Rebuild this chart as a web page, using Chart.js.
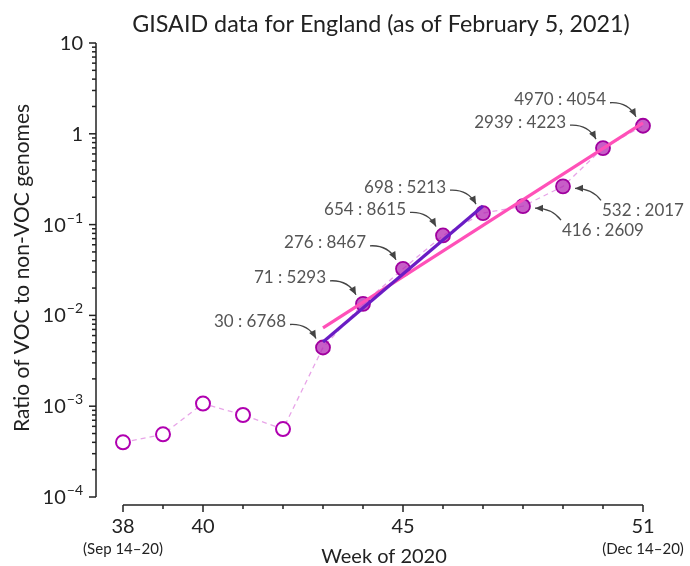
<!DOCTYPE html>
<html>
<head>
<meta charset="utf-8">
<script src="https://cdn.jsdelivr.net/npm/chart.js@4.4.1/dist/chart.umd.min.js"></script>
<style>
  html, body { margin: 0; padding: 0; background: #fff; }
  #wrap { width: 690px; height: 566px; }
</style>
</head>
<body>
<div id="wrap"><canvas id="vocChart" width="690" height="566"></canvas></div>
<script>
// weeks of 2020
const weeks = [38, 39, 40, 41, 42, 43, 44, 45, 46, 47, 48, 49, 50, 51];
// early weeks: ratio (open circles)
const earlyRatios = [4.0e-4, 4.9e-4, 1.07e-3, 8.0e-4, 5.6e-4];
// later weeks: VOC : non-VOC genome counts (filled circles)
const vocCounts = [30, 71, 276, 654, 698, 416, 532, 2939, 4970];
const nonVocCounts = [6768, 5293, 8467, 8615, 5213, 2609, 2017, 4223, 4054];
// label side for each filled point: "ul" = upper left, "lr" = lower right
const labelSide = ["ul", "ul", "ul", "ul", "ul", "lr", "lr", "ul", "ul"];

// fitted trend lines (end points)
const purpleFitWeeks = [43, 47];
const purpleFitValues = [5.1e-3, 0.16];
const pinkFitWeeks = [43, 51];
const pinkFitValues = [7.3e-3, 1.32];

const majorWeeks = [38, 40, 45, 51];
const majorWeekLabels = ["38", "40", "45", "51"];
const weekRanges = ["(Sep 14\u201320)", "", "", "(Dec 14\u201320)"];
const yExponents = [-4, -3, -2, -1, 0, 1];

const FONT = "Lato, 'Open Sans', sans-serif";

const lateWeeks = weeks.slice(earlyRatios.length);
const lateRatios = vocCounts.map((v, i) => v / nonVocCounts[i]);
const allRatios = earlyRatios.concat(lateRatios);

const pts = (xs, ys) => xs.map((x, i) => ({ x, y: ys[i] }));

const axesPlugin = {
    id: "axesPlugin",
    afterDraw(chart) {
        const { ctx, scales: { x, y } } = chart;
        ctx.save();
        ctx.strokeStyle = "#222";
        ctx.fillStyle = "#222";
        ctx.lineWidth = 1.5;

        // x axis (offset below plot)
        const xAxisY = 505;
        ctx.beginPath();
        ctx.moveTo(x.getPixelForValue(weeks[0]), xAxisY);
        ctx.lineTo(x.getPixelForValue(weeks[weeks.length - 1]), xAxisY);
        ctx.stroke();
        weeks.forEach(w => {
            const px = x.getPixelForValue(w);
            const len = majorWeeks.includes(w) ? 7 : 4;
            ctx.beginPath();
            ctx.moveTo(px, xAxisY);
            ctx.lineTo(px, xAxisY + len);
            ctx.stroke();
        });
        ctx.textAlign = "center";
        ctx.textBaseline = "alphabetic";
        majorWeeks.forEach((w, i) => {
            const px = x.getPixelForValue(w);
            ctx.font = "20px " + FONT;
            ctx.fillText(majorWeekLabels[i], px, 533);
            if (weekRanges[i]) {
                ctx.font = "15px " + FONT;
                ctx.fillText(weekRanges[i], px, 554);
            }
        });
        ctx.font = "20px " + FONT;
        ctx.fillText("Week of 2020", 384, 563);

        // y axis (offset left of plot)
        const yAxisX = 96;
        ctx.beginPath();
        ctx.moveTo(yAxisX, y.getPixelForValue(Math.pow(10, yExponents[0])));
        ctx.lineTo(yAxisX, y.getPixelForValue(Math.pow(10, yExponents[yExponents.length - 1])));
        ctx.stroke();
        yExponents.forEach((e, i) => {
            const py = y.getPixelForValue(Math.pow(10, e));
            ctx.beginPath();
            ctx.moveTo(yAxisX, py);
            ctx.lineTo(yAxisX - 7, py);
            ctx.stroke();
            if (i < yExponents.length - 1) {
                for (let m = 2; m <= 9; m++) {
                    const pm = y.getPixelForValue(m * Math.pow(10, e));
                    ctx.beginPath();
                    ctx.moveTo(yAxisX, pm);
                    ctx.lineTo(yAxisX - 4, pm);
                    ctx.stroke();
                }
            }
            // label
            const right = 83;
            ctx.textAlign = "right";
            ctx.textBaseline = "alphabetic";
            if (e === 0 || e === 1) {
                ctx.font = "20px " + FONT;
                ctx.fillText(e === 0 ? "1" : "10", right, py + 7);
            } else {
                ctx.font = "14px " + FONT;
                const sup = "\u2212" + (-e);
                const supW = ctx.measureText(sup).width;
                ctx.fillText(sup, right, py - 2);
                ctx.font = "20px " + FONT;
                ctx.fillText("10", right - supW - 1, py + 7);
            }
        });

        ctx.save();
        ctx.translate(29, 268);
        ctx.rotate(-Math.PI / 2);
        ctx.textAlign = "center";
        ctx.textBaseline = "alphabetic";
        ctx.font = "21px " + FONT;
        ctx.fillText("Ratio of VOC to non-VOC genomes", 0, 0);
        ctx.restore();

        // title
        ctx.textAlign = "center";
        ctx.textBaseline = "alphabetic";
        ctx.font = "23.3px " + FONT;
        ctx.fillText("GISAID data for England (as of February 5, 2021)", 381, 32);

        // count annotations with curved arrows
        ctx.font = "17px " + FONT;
        ctx.textBaseline = "middle";
        ctx.fillStyle = "#555";
        ctx.strokeStyle = "#444";
        ctx.lineWidth = 1.3;
        lateWeeks.forEach((w, i) => {
            const px = x.getPixelForValue(w);
            const py = y.getPixelForValue(lateRatios[i]);
            const text = vocCounts[i] + " : " + nonVocCounts[i];
            let s, c, e;
            if (labelSide[i] === "ul") {
                ctx.textAlign = "right";
                ctx.fillText(text, px - 37, py - 26);
                s = [px - 33, py - 23]; c = [px - 15, py - 24]; e = [px - 7, py - 9];
            } else {
                ctx.textAlign = "left";
                ctx.fillText(text, px + 39, py + 24);
                s = [px + 38, py + 14]; c = [px + 29, py + 2]; e = [px + 12, py + 2];
            }
            ctx.beginPath();
            ctx.moveTo(s[0], s[1]);
            ctx.quadraticCurveTo(c[0], c[1], e[0], e[1]);
            ctx.stroke();
            const ang = Math.atan2(e[1] - c[1], e[0] - c[0]);
            ctx.beginPath();
            ctx.moveTo(e[0], e[1]);
            ctx.lineTo(e[0] - 8 * Math.cos(ang) + 3.5 * Math.sin(ang), e[1] - 8 * Math.sin(ang) - 3.5 * Math.cos(ang));
            ctx.lineTo(e[0] - 8 * Math.cos(ang) - 3.5 * Math.sin(ang), e[1] - 8 * Math.sin(ang) + 3.5 * Math.cos(ang));
            ctx.closePath();
            ctx.fillStyle = "#444";
            ctx.fill();
            ctx.fillStyle = "#555";
        });
        ctx.restore();
    }
};

new Chart(document.getElementById("vocChart"), {
    type: "line",
    data: {
        datasets: [
            {
                label: "fit 43-47",
                data: pts(purpleFitWeeks, purpleFitValues),
                borderColor: "#6a1cc4",
                borderWidth: 3.2,
                pointRadius: 0,
                order: 0
            },
            {
                label: "fit 43-51",
                data: pts(pinkFitWeeks, pinkFitValues),
                borderColor: "#ff50b8",
                borderWidth: 3.2,
                pointRadius: 0,
                order: 1
            },
            {
                label: "VOC weeks",
                data: pts(lateWeeks, lateRatios),
                showLine: false,
                pointRadius: 7,
                pointBackgroundColor: "rgba(180, 40, 180, 0.75)",
                pointBorderColor: "#a0009f",
                pointBorderWidth: 1.8,
                order: 2
            },
            {
                label: "early weeks",
                data: pts(weeks.slice(0, earlyRatios.length), earlyRatios),
                showLine: false,
                pointRadius: 7,
                pointBackgroundColor: "#fff",
                pointBorderColor: "#b000b0",
                pointBorderWidth: 2,
                order: 3
            },
            {
                label: "all weeks",
                data: pts(weeks, allRatios),
                borderColor: "#e8a4e8",
                borderWidth: 1.3,
                borderDash: [5, 4],
                pointRadius: 0,
                order: 4
            }
        ]
    },
    options: {
        responsive: false,
        animation: false,
        clip: false,
        layout: { padding: { left: 95, right: 23, top: 43, bottom: 69 } },
        plugins: {
            legend: { display: false },
            title: { display: false },
            tooltip: { enabled: false }
        },
        scales: {
            x: { type: "linear", min: 37.3, max: 51.6, display: false },
            y: { type: "logarithmic", min: 1e-4, max: 10, display: false }
        }
    },
    plugins: [axesPlugin]
});
</script>
</body>
</html>
